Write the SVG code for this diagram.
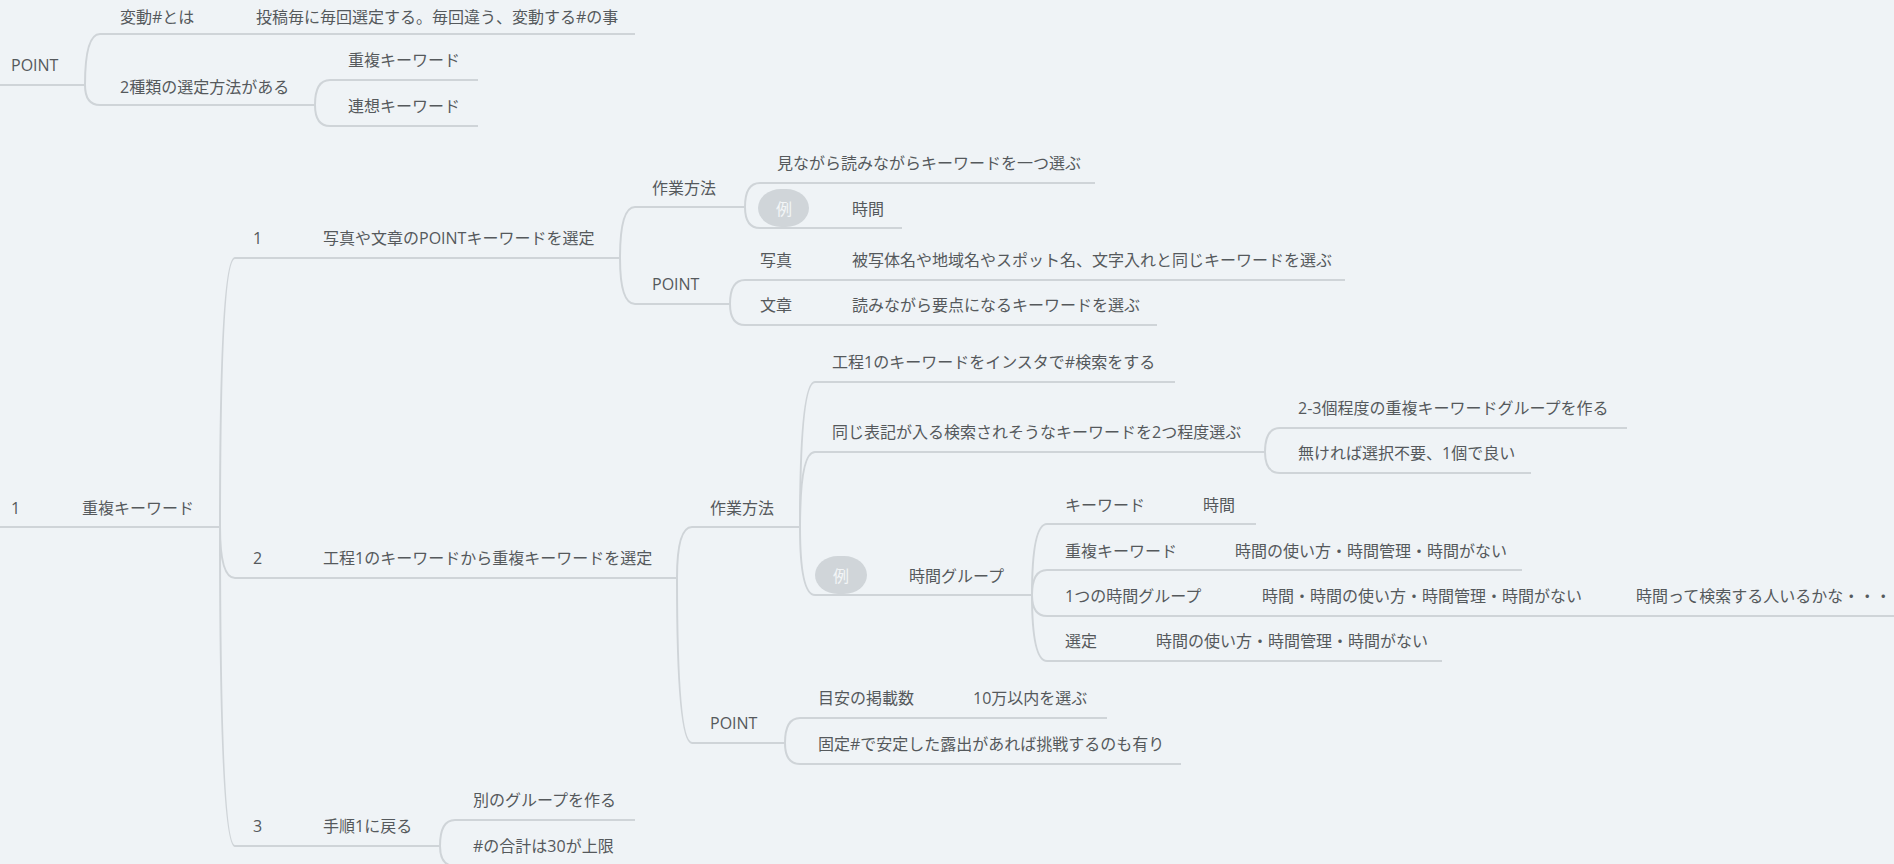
<svg xmlns="http://www.w3.org/2000/svg" width="1894" height="864" viewBox="0 0 1894 864">
<style>
text{font-family:"Open Sans","Noto Sans CJK JP",sans-serif;font-size:16px;fill:#55595c}
.u{stroke:#cfd4d8;stroke-width:2;fill:none}
.c{stroke:#cfd4d8;stroke-width:2;fill:none}
.b{fill:#d0d5d9}
text.bt{fill:#f3f5f7;text-anchor:middle}
</style>
<rect width="1894" height="864" fill="#eff3f6"/>
<g id="connectors">
<path class="c" d="M85 85 Q85 34 100 34"/>
<path class="c" d="M85 85 Q85 105 100 105"/>
<path class="c" d="M315 105 Q315 80 330 80"/>
<path class="c" d="M315 105 Q315 126 330 126"/>
<path class="c" d="M220 527 Q220 258 235 258"/>
<path class="c" d="M220 527 Q220 578 235 578"/>
<path class="c" d="M220 527 Q220 846 235 846"/>
<path class="c" d="M620 258 Q620 207 635 207"/>
<path class="c" d="M620 258 Q620 304 635 304"/>
<path class="c" d="M745 207 Q745 183 760 183"/>
<path class="c" d="M745 207 Q745 228 760 228"/>
<path class="c" d="M730 304 Q730 280 745 280"/>
<path class="c" d="M730 304 Q730 325 745 325"/>
<path class="c" d="M677 578 Q677 527 692 527"/>
<path class="c" d="M677 578 Q677 743 692 743"/>
<path class="c" d="M800 527 Q800 382 815 382"/>
<path class="c" d="M800 527 Q800 452 815 452"/>
<path class="c" d="M800 527 Q800 595 815 595"/>
<path class="c" d="M1265 452 Q1265 428 1280 428"/>
<path class="c" d="M1265 452 Q1265 473 1280 473"/>
<path class="c" d="M1032 595 Q1032 524 1047 524"/>
<path class="c" d="M1032 595 Q1032 570 1047 570"/>
<path class="c" d="M1032 595 Q1032 616 1047 616"/>
<path class="c" d="M1032 595 Q1032 661 1047 661"/>
<path class="c" d="M785 743 Q785 718 800 718"/>
<path class="c" d="M785 743 Q785 764 800 764"/>
<path class="c" d="M440 846 Q440 820 455 820"/>
<path class="c" d="M440 846 Q440 866 455 866"/>
</g>
<g id="n-point-top"><text x="11" y="71">POINT</text><path class="u" d="M0 85H85"/></g>
<g id="n-hendo"><text x="120" y="23">変動#とは</text><path class="u" d="M100 34H238"/></g>
<g id="n-hendo-def"><text x="256" y="23">投稿毎に毎回選定する。毎回違う、変動する#の事</text><path class="u" d="M238 34H635"/></g>
<g id="n-2shurui"><text x="120" y="93">2種類の選定方法がある</text><path class="u" d="M100 105H315"/></g>
<g id="n-choufuku-top"><text x="348" y="66">重複キーワード</text><path class="u" d="M330 80H478"/></g>
<g id="n-rensou"><text x="348" y="112">連想キーワード</text><path class="u" d="M330 126H478"/></g>

<g id="n-1"><text x="11" y="514">1</text><path class="u" d="M0 527H50"/></g>
<g id="n-choufuku"><text x="82" y="514">重複キーワード</text><path class="u" d="M50 527H220"/></g>

<g id="n-s1"><text x="253" y="244">1</text><path class="u" d="M235 258H300"/></g>
<g id="n-s1-label"><text x="323" y="244">写真や文章のPOINTキーワードを選定</text><path class="u" d="M300 258H620"/></g>
<g id="n-s2"><text x="253" y="564">2</text><path class="u" d="M235 578H300"/></g>
<g id="n-s2-label"><text x="323" y="564">工程1のキーワードから重複キーワードを選定</text><path class="u" d="M300 578H677"/></g>
<g id="n-s3"><text x="253" y="832">3</text><path class="u" d="M235 846H300"/></g>
<g id="n-s3-label"><text x="323" y="832">手順1に戻る</text><path class="u" d="M300 846H440"/></g>

<g id="n-s1-method"><text x="652" y="194">作業方法</text><path class="u" d="M635 207H745"/></g>
<g id="n-s1-point"><text x="652" y="290">POINT</text><path class="u" d="M635 304H730"/></g>
<g id="n-s1-m1"><text x="777" y="169">見ながら読みながらキーワードを一つ選ぶ</text><path class="u" d="M760 183H1095"/></g>
<g id="n-s1-ex"><rect class="b" x="758" y="189" width="51" height="38" rx="23" ry="19"/><text class="bt" x="784" y="215">例</text><path class="u" d="M760 228H830"/></g>
<g id="n-s1-ex-val"><text x="852" y="215">時間</text><path class="u" d="M830 228H902"/></g>
<g id="n-s1-photo"><text x="760" y="266">写真</text><path class="u" d="M745 280H830"/></g>
<g id="n-s1-photo-val"><text x="852" y="266">被写体名や地域名やスポット名、文字入れと同じキーワードを選ぶ</text><path class="u" d="M830 280H1345"/></g>
<g id="n-s1-text"><text x="760" y="311">文章</text><path class="u" d="M745 325H830"/></g>
<g id="n-s1-text-val"><text x="852" y="311">読みながら要点になるキーワードを選ぶ</text><path class="u" d="M830 325H1157"/></g>

<g id="n-s2-method"><text x="710" y="514">作業方法</text><path class="u" d="M692 527H800"/></g>
<g id="n-s2-point"><text x="710" y="729">POINT</text><path class="u" d="M692 743H785"/></g>
<g id="n-s2-m1"><text x="832" y="368">工程1のキーワードをインスタで#検索をする</text><path class="u" d="M815 382H1175"/></g>
<g id="n-s2-m2"><text x="832" y="438">同じ表記が入る検索されそうなキーワードを2つ程度選ぶ</text><path class="u" d="M815 452H1265"/></g>
<g id="n-s2-m2a"><text x="1298" y="414">2-3個程度の重複キーワードグループを作る</text><path class="u" d="M1280 428H1627"/></g>
<g id="n-s2-m2b"><text x="1298" y="459">無ければ選択不要、1個で良い</text><path class="u" d="M1280 473H1531"/></g>
<g id="n-s2-ex"><rect class="b" x="815" y="556" width="52" height="38" rx="23" ry="19"/><text class="bt" x="841" y="582">例</text><path class="u" d="M815 595H887"/></g>
<g id="n-s2-ex-val"><text x="909" y="582">時間グループ</text><path class="u" d="M887 595H1032"/></g>
<g id="n-g1"><text x="1065" y="511">キーワード</text><path class="u" d="M1047 524H1182"/></g>
<g id="n-g1-val"><text x="1203" y="511">時間</text><path class="u" d="M1182 524H1256"/></g>
<g id="n-g2"><text x="1065" y="557">重複キーワード</text><path class="u" d="M1047 570H1214"/></g>
<g id="n-g2-val"><text x="1235" y="557">時間の使い方・時間管理・時間がない</text><path class="u" d="M1214 570H1522"/></g>
<g id="n-g3"><text x="1065" y="602">1つの時間グループ</text><path class="u" d="M1047 616H1241"/></g>
<g id="n-g3-val"><text x="1262" y="602">時間・時間の使い方・時間管理・時間がない</text><path class="u" d="M1241 616H1615"/></g>
<g id="n-g3-note"><text x="1636" y="602">時間って検索する人いるかな・・・</text><path class="u" d="M1615 616H1894"/></g>
<g id="n-g4"><text x="1065" y="647">選定</text><path class="u" d="M1047 661H1135"/></g>
<g id="n-g4-val"><text x="1156" y="647">時間の使い方・時間管理・時間がない</text><path class="u" d="M1135 661H1442"/></g>
<g id="n-p1"><text x="818" y="704">目安の掲載数</text><path class="u" d="M800 718H952"/></g>
<g id="n-p1-val"><text x="973" y="704">10万以内を選ぶ</text><path class="u" d="M952 718H1107"/></g>
<g id="n-p2"><text x="818" y="750">固定#で安定した露出があれば挑戦するのも有り</text><path class="u" d="M800 764H1181"/></g>

<g id="n-s3-a"><text x="473" y="806">別のグループを作る</text><path class="u" d="M455 820H635"/></g>
<g id="n-s3-b"><text x="473" y="852">#の合計は30が上限</text><path class="u" d="M455 866H636"/></g>
</svg>
